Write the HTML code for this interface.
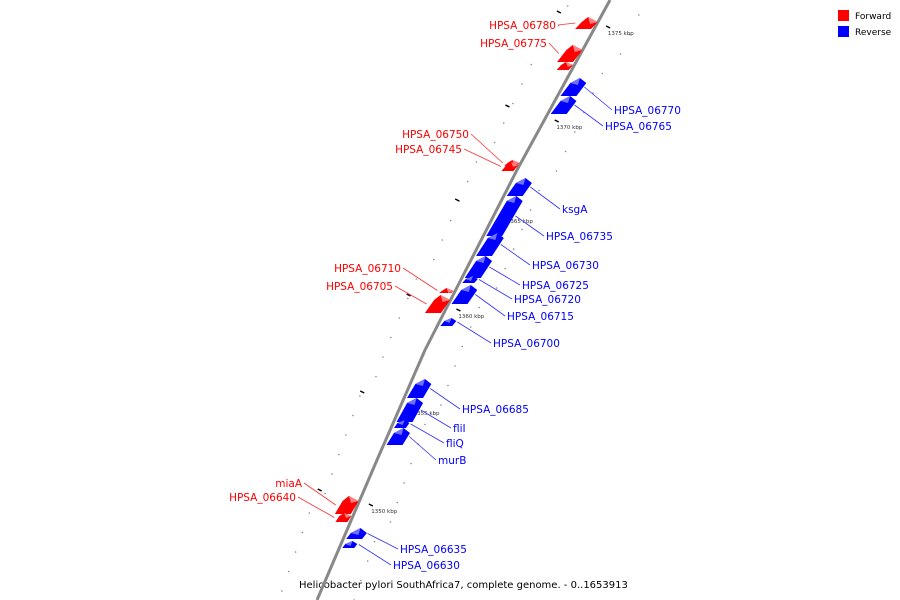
<!DOCTYPE html>
<html><head><meta charset="utf-8"><style>
html,body{margin:0;padding:0;background:#fff;width:900px;height:600px;overflow:hidden}
svg text{font-family:"DejaVu Sans","Liberation Sans",sans-serif}
</style></head><body>
<svg id="c" width="900" height="600" viewBox="0 0 900 600" xmlns="http://www.w3.org/2000/svg">
<g>
<rect x="838" y="10" width="11" height="11" fill="#ff0000"/>
<text x="855" y="19" font-size="9">Forward</text>
<rect x="838" y="26" width="11" height="11" fill="#0000ff"/>
<text x="855" y="35" font-size="9">Reverse</text>
</g>
<text x="299" y="588" font-size="10">Helicobacter pylori SouthAfrica7, complete genome. - 0..1653913</text>
</svg>
<script>
const axisY=[0,170,350,460,600];
const axisX=[610,517,425,377,317];
const geneNames=["HPSA_06780","HPSA_06775","","HPSA_06750","HPSA_06745","HPSA_06710","HPSA_06705","miaA","HPSA_06640",
"HPSA_06770","HPSA_06765","ksgA","HPSA_06735","HPSA_06730","HPSA_06725","HPSA_06720","HPSA_06715","HPSA_06700","HPSA_06685","fliI","fliQ","murB","HPSA_06635","HPSA_06630"];
const geneStart=[17,45,62,160,162,288,295,496,513, 78,96,178,196,233,256,276,285,318,379,398,420,428,528,541];
const geneEnd=[29,62,70,166,171,293,313,514,522, 96,114,196,236,256,278,283,304,326,398,422,428,445,539,548];
const geneStrand=["F","F","F","F","F","F","F","F","F","R","R","R","R","R","R","R","R","R","R","R","R","R","R","R"];
const labelX=[556,547,0,469,462,401,393,302,296, 614,605,562,546,532,522,514,507,493,462,453,446,438,400,393];
const labelY=[29,47,0,138,153,272,290,487,501, 114,130,213,240,269,289,303,320,347,413,432,447,464,553,569];
const tickLabels=["1375 kbp","1370 kbp","1365 kbp","1360 kbp","1355 kbp","1350 kbp"];
const tickLabelY=[35,129,223,318,415,513];
const svg=document.getElementById('c');
const NS='http://www.w3.org/2000/svg';
function ax(y){for(let i=0;i<axisY.length-1;i++){if(y<=axisY[i+1]){const t=(y-axisY[i])/(axisY[i+1]-axisY[i]);return axisX[i]+t*(axisX[i+1]-axisX[i]);}}return axisX[axisX.length-1];}
function mk(t,a){const e=document.createElementNS(NS,t);for(const k in a)e.setAttribute(k,a[k]);svg.insertBefore(e,svg.firstChild.nextSibling);return e;}
// background ticks
for(let y=6;y<600;y+=19.5){
 const d=mk('circle',{cx:ax(y)-45+((y*7)%9),cy:y,r:0.8,fill:'#888'});
 
 
 const d2=mk('circle',{cx:ax(y+9)+40-((y*5)%9),cy:y+9,r:0.8,fill:'#888'});
 
 
}
// axis line
let pts=axisY.map((y,i)=>axisX[i]+','+y).join(' ');
const line=document.createElementNS(NS,'polyline');
line.setAttribute('points',pts);line.setAttribute('fill','none');line.setAttribute('stroke','#888');line.setAttribute('stroke-width','3');


svg.appendChild(line);
// kbp ticks
tickLabels.forEach((t,i)=>{
 const y=tickLabelY[i];
 const m=document.createElementNS(NS,'line');
 m.setAttribute('x1',ax(y-6)+12);m.setAttribute('y1',y-9);m.setAttribute('x2',ax(y-6)+16);m.setAttribute('y2',y-7);m.setAttribute('stroke','#000');m.setAttribute('stroke-width','1.5');
 
 
 svg.appendChild(m);
 const m2=document.createElementNS(NS,'line');
 m2.setAttribute('x1',ax(y-22)-46);m2.setAttribute('y1',y-24);m2.setAttribute('x2',ax(y-22)-42);m2.setAttribute('y2',y-22);m2.setAttribute('stroke','#000');m2.setAttribute('stroke-width','1.5');
 
 
 svg.appendChild(m2);
 const tx=document.createElementNS(NS,'text');
 tx.setAttribute('x',ax(y)+17);tx.setAttribute('y',y);tx.setAttribute('font-size','5.5');tx.setAttribute('fill','#333');
 tx.textContent=t;
 
 
 svg.appendChild(tx);
});
// genes
geneNames.forEach((n,i)=>{
 const y1=geneStart[i],y2=geneEnd[i],f=geneStrand[i]==='F';
 const big=(y2-y1)>10;
 const w=big?16:12;
 const col=f?'#ff0000':'#0000ff',light=f?'#ff8080':'#7070ff';
 const s=f?-1:1;
 const x1=ax(y1)+s*3,x2=ax(y2)+s*3;
 const g=document.createElementNS(NS,'g');
 
 
 const top=big?5:3;
 const p=document.createElementNS(NS,'polygon');
 p.setAttribute('points',`${x1},${y1+top} ${x1+s*w*0.6},${y1} ${x1+s*w},${y1+top} ${x2+s*w},${y2} ${x2},${y2}`);
 p.setAttribute('fill',col);
 g.appendChild(p);
 const q=document.createElementNS(NS,'polygon');
 q.setAttribute('points',`${x1},${y1+top} ${x1+s*w*0.6},${y1} ${x1+s*w*0.6-s*2},${y1+top+2}`);
 q.setAttribute('fill',light);
 g.appendChild(q);
 svg.appendChild(g);
 if(n){
  const cy=(y1+y2)/2;
  const lx=ax(cy)+s*(w+6);
  const l=document.createElementNS(NS,'line');
  const tx=f?labelX[i]+2:labelX[i]-2;
  l.setAttribute('x1',lx);l.setAttribute('y1',cy);l.setAttribute('x2',tx);l.setAttribute('y2',labelY[i]-4);
  l.setAttribute('stroke',f?'#ff3030':'#3030ff');l.setAttribute('stroke-width','0.8');
  
  
  svg.appendChild(l);
  const t=document.createElementNS(NS,'text');
  t.setAttribute('x',labelX[i]);t.setAttribute('y',labelY[i]);t.setAttribute('font-size','10.5');
  t.setAttribute('fill',col);t.setAttribute('text-anchor',f?'end':'start');
  t.textContent=n;
  
  
  svg.appendChild(t);
 }
});
</script>
</body></html>
